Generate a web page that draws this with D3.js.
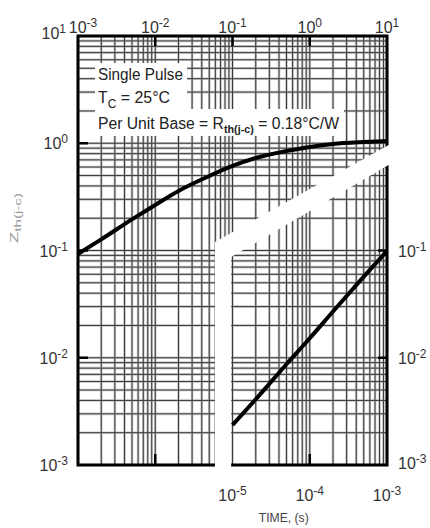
<!DOCTYPE html>
<html>
<head>
<meta charset="utf-8">
<script src="https://cdnjs.cloudflare.com/ajax/libs/d3/7.8.5/d3.min.js"></script>
<style>
  html, body { margin: 0; padding: 0; background: #fff; }
  svg { display: block; font-family: "Liberation Sans", Arial, sans-serif; }
</style>
</head>
<body>
<div id="chart"></div>
<script>
// axis labels (decades)
const topDecades = [1e-3, 1e-2, 1e-1, 1e0, 1e1];
const topExps = ['-3', '-2', '-1', '0', '1'];
const bottomDecades = [1e-5, 1e-4, 1e-3];
const bottomExps = ['-5', '-4', '-3'];
const leftDecades = [1e1, 1e0, 1e-1, 1e-2, 1e-3];
const leftExps = ['1', '0', '-1', '-2', '-3'];
const rightDecades = [1e-1, 1e-2, 1e-3];
const rightExps = ['-1', '-2', '-3'];

// inner tick marks
const topTicks = [1e-2, 1e-1, 1e0];
const bottomTicksUpper = [1e-2];
const bottomTicksLower = [1e-4];
const leftTicks = [1e0, 1e-1, 1e-2];
const rightTicks = [1e-1, 1e-2];

// upper curve, read on the top time axis
const upperTime = [0.001, 0.002, 0.005, 0.01, 0.02, 0.05, 0.1, 0.2, 0.5, 1, 2, 5, 10];
const upperZ = [0.093, 0.127, 0.195, 0.266, 0.359, 0.495, 0.614, 0.729, 0.847, 0.923, 0.984, 1.027, 1.05];

// lower curve, read on the bottom time axis
const lowerTime = [1e-5, 2e-5, 5e-5, 1e-4, 2e-4, 5e-4, 1e-3];
const lowerZ = [0.00236, 0.0041, 0.0087, 0.0152, 0.027, 0.057, 0.099];

// white break between the two panels (top axis time, Z)
const gapUpperTime = [0.0593, 13];
const gapUpperZ = [0.12, 1.05];
const gapLowerTime = [0.096, 13];
const gapLowerZ = [0.087, 0.685];

const W = 430, H = 528;
const frame = { left: 78, right: 387, top: 36, bottom: 465 };

const svg = d3.select('#chart').append('svg')
  .attr('width', W)
  .attr('height', H);

svg.append('rect').attr('width', W).attr('height', H).attr('fill', '#fff');

const x = d3.scaleLog().domain([1e-3, 1e1]).range([frame.left, frame.right]);
const xLow = d3.scaleLog().domain([1e-7, 1e-3]).range([frame.left, frame.right]);
const y = d3.scaleLog().domain([1e-3, 1e1]).range([frame.bottom, frame.top]);

// grid
const grid = svg.append('g');
const xt = x.ticks();
const yt = y.ticks();

[['#c8c8c8', 2.6], ['#3a3a3a', 1]].forEach(([col, w]) => {
  grid.append('g').selectAll('line')
    .data(xt)
    .join('line')
    .attr('x1', d => x(d)).attr('x2', d => x(d))
    .attr('y1', frame.top).attr('y2', frame.bottom)
    .attr('stroke', col).attr('stroke-width', w);
  grid.append('g').selectAll('line')
    .data(yt)
    .join('line')
    .attr('y1', d => y(d)).attr('y2', d => y(d))
    .attr('x1', frame.left).attr('x2', frame.right)
    .attr('stroke', col).attr('stroke-width', w);
});

// frame
svg.append('rect')
  .attr('x', frame.left).attr('y', frame.top)
  .attr('width', frame.right - frame.left)
  .attr('height', frame.bottom - frame.top)
  .attr('fill', 'none')
  .attr('stroke', '#000')
  .attr('stroke-width', 3);

// tick marks
const ticks = svg.append('g').attr('stroke', '#000').attr('stroke-width', 2.5);
ticks.selectAll('.tt').data(topTicks).join('line')
  .attr('x1', d => x(d)).attr('x2', d => x(d))
  .attr('y1', frame.top).attr('y2', frame.top + 10);
ticks.selectAll('.bt').data(bottomTicksUpper).join('line')
  .attr('x1', d => x(d)).attr('x2', d => x(d))
  .attr('y1', frame.bottom).attr('y2', frame.bottom - 11);
ticks.selectAll('.bl').data(bottomTicksLower).join('line')
  .attr('x1', d => xLow(d)).attr('x2', d => xLow(d))
  .attr('y1', frame.bottom).attr('y2', frame.bottom - 11);
ticks.selectAll('.lt').data(leftTicks).join('line')
  .attr('y1', d => y(d)).attr('y2', d => y(d))
  .attr('x1', frame.left).attr('x2', frame.left + 10);
ticks.selectAll('.rt').data(rightTicks).join('line')
  .attr('y1', d => y(d)).attr('y2', d => y(d))
  .attr('x1', frame.right).attr('x2', frame.right - 9);

// break between panels
const gapBottom = frame.bottom + 15;
const gapPts = [
  [x(gapUpperTime[0]), gapBottom],
  [x(gapUpperTime[0]), y(gapUpperZ[0])],
  [x(gapUpperTime[1]), y(gapUpperZ[1])],
  [x(gapLowerTime[1]), y(gapLowerZ[1])],
  [x(gapLowerTime[0]), y(gapLowerZ[0])],
  [x(gapLowerTime[0]), gapBottom]
];
svg.append('polygon')
  .attr('points', gapPts.map(p => p.join(',')).join(' '))
  .attr('fill', '#fff');

// note text with white boxes
const notes = svg.append('g');
const boxLayer = notes.append('g');
const textLayer = notes.append('g').attr('fill', '#222').attr('font-size', 16);

const t1 = textLayer.append('text').attr('x', 98).attr('y', 80)
  .attr('textLength', 85).attr('lengthAdjust', 'spacingAndGlyphs')
  .text('Single Pulse');

const t2 = textLayer.append('text').attr('x', 98).attr('y', 103)
  .attr('textLength', 72).attr('lengthAdjust', 'spacingAndGlyphs');
t2.append('tspan').text('T');
t2.append('tspan').attr('font-size', 12).attr('dy', 5).text('C');
t2.append('tspan').attr('dy', -5).text(' = 25\u00b0C');

const t3 = textLayer.append('text').attr('x', 98).attr('y', 129)
  .attr('textLength', 241).attr('lengthAdjust', 'spacingAndGlyphs');
t3.append('tspan').text('Per Unit Base = R');
t3.append('tspan').attr('font-size', 11).attr('font-weight', 'bold').attr('dy', 4).text('th(j-c)');
t3.append('tspan').attr('dy', -4).text(' = 0.18\u00b0C/W');

const b1 = t1.node().getBBox(), b2 = t2.node().getBBox(), b3 = t3.node().getBBox();
const box1x2 = Math.max(b1.x + b1.width, b2.x + b2.width) + 4;
boxLayer.append('rect')
  .attr('x', b1.x - 3).attr('y', b1.y - 3)
  .attr('width', box1x2 - b1.x + 3)
  .attr('height', b2.y + b2.height - b1.y + 2)
  .attr('fill', '#fff');
boxLayer.append('rect')
  .attr('x', b3.x - 3).attr('y', b2.y + b2.height - 2)
  .attr('width', b3.width + 7)
  .attr('height', b3.y + b3.height - (b2.y + b2.height) + 3)
  .attr('fill', '#fff');

// curves
const line = d3.line().curve(d3.curveMonotoneX);
svg.append('path')
  .attr('d', line(upperTime.map((t, i) => [x(t), y(upperZ[i])])))
  .attr('fill', 'none').attr('stroke', '#000').attr('stroke-width', 4);
svg.append('path')
  .attr('d', line(lowerTime.map((t, i) => [xLow(t), y(lowerZ[i])])))
  .attr('fill', 'none').attr('stroke', '#000').attr('stroke-width', 4);

// tick labels (10 with superscript)
function powLabel(g, px, py, exp, anchor) {
  const t = g.append('text')
    .attr('x', px).attr('y', py)
    .attr('text-anchor', anchor)
    .attr('font-size', 16)
    .attr('fill', '#333');
  t.append('tspan').text('10');
  t.append('tspan').attr('font-size', 12).attr('dy', -6).text(exp);
  return t;
}

const labels = svg.append('g');
topDecades.forEach((d, i) => powLabel(labels, x(d) + (i === 0 ? 5 : 0), 33, topExps[i], 'middle'));
bottomDecades.forEach((d, i) => powLabel(labels, xLow(d), 501, bottomExps[i], 'middle'));
leftDecades.forEach((d, i) => powLabel(labels, i === 0 ? 66 : 68, y(d) + 6 - (i === 0 ? 3 : 0), leftExps[i], 'end'));
rightDecades.forEach((d, i) => powLabel(labels, 398, y(d) + 6 - (i === 2 ? 2 : 0), rightExps[i], 'start'));

// axis titles
labels.append('text')
  .attr('x', (xLow(1e-5) + xLow(1e-3)) / 2 - 26)
  .attr('y', 522)
  .attr('text-anchor', 'middle')
  .attr('font-size', 12)
  .attr('fill', '#444')
  .attr('textLength', 50).attr('lengthAdjust', 'spacingAndGlyphs')
  .text('TIME, (s)');

const yTitle = labels.append('text')
  .attr('transform', 'translate(18,243) rotate(-90)')
  .attr('font-size', 11)
  .attr('fill', '#999')
  .attr('textLength', 50).attr('lengthAdjust', 'spacingAndGlyphs');
yTitle.append('tspan').text('Z');
yTitle.append('tspan').attr('font-size', 9).attr('dy', 3).text('th(j-c)');
</script>
</body>
</html>
